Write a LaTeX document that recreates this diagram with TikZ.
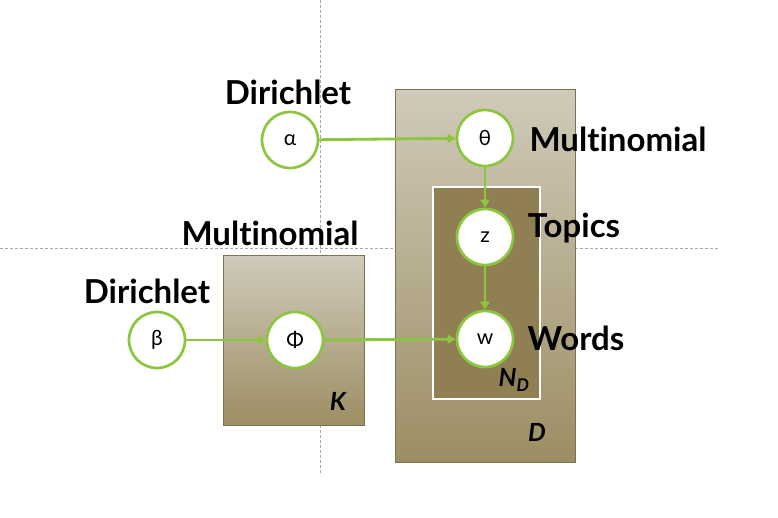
\documentclass[tikz,border=0pt]{standalone}
\usepackage{fontspec}
\setmainfont{Lato}[Ligatures=NoCommon]
\usetikzlibrary{arrows.meta}
\definecolor{lgreen}{HTML}{8CC63F}
\definecolor{platetop}{HTML}{D0CABA}
\definecolor{platebot}{HTML}{9C8E63}
\definecolor{innerfill}{HTML}{8F7F52}
\definecolor{guide}{HTML}{A8A8A8}
\tikzset{
  var/.style={circle, draw=lgreen, line width=2.7pt, fill=white, minimum size=56pt, inner sep=0pt, font=\fontsize{21}{21}\selectfont},
  plate/.style={top color=platetop, bottom color=platebot, draw=platebot!80!black, line width=0.6pt},
  innerplate/.style={fill=innerfill, draw=white, line width=2.4pt},
  lbl/.style={font=\fontsize{33}{33}\selectfont\bfseries, text=black, inner sep=0pt},
  platelbl/.style={font=\fontsize{25}{25}\selectfont\bfseries\itshape, text=black, inner sep=0pt},
  edge/.style={draw=lgreen, line width=2.8pt, -{Triangle[length=8pt,width=9pt]}},
  guideline/.style={draw=guide, line width=0.5pt, dash pattern=on 3pt off 2pt}
}
\begin{document}
\begin{tikzpicture}[x=1pt,y=-1pt]
\useasboundingbox[fill=white] (0,0) rectangle (778,518);
% guides
\draw[guideline] (320,0) -- (320,475);
\draw[guideline] (0,248) -- (718,248);
% plates
\node[plate, minimum width=180pt, minimum height=373pt, inner sep=0pt, anchor=north west] (Dplate) at (395,89) {};
\node[innerplate, minimum width=107pt, minimum height=212pt, inner sep=0pt, anchor=north west] (Nplate) at (432,186) {};
\node[plate, minimum width=141pt, minimum height=170pt, inner sep=0pt, anchor=north west] (Kplate) at (223,255) {};
% variables
\node[var] (alpha) at (290,140) {α};
\node[var] (theta) at (485,138) {θ};
\node[var] (z) at (485,237) {z};
\node[var] (w) at (485,339) {w};
\node[var] (beta) at (157,340) {β};
\node[var] (phi) at (295,340) {Φ};
% edges
\draw[edge] (alpha) -- (theta);
\draw[edge] (theta) -- (z);
\draw[edge] (z) -- (w);
\draw[edge] (beta) -- (phi);
\draw[edge] (phi) -- (w);
% labels
\node[lbl] (l1) at (288,92) {Dirichlet};
\node[lbl] (l2) at (618,139) {Multinomial};
\node[lbl] (l3) at (574,228) {Topics};
\node[lbl] (l4) at (576,338) {Words};
\node[lbl] (l5) at (270,233) {Multinomial};
\node[lbl] (l6) at (147,291) {Dirichlet};
\node[platelbl] (kl) at (338,401) {K};
\node[platelbl] (nl) at (514,380) {N\textsubscript{D}};
\node[platelbl] (dl) at (537,432) {D};
\end{tikzpicture}
\end{document}
